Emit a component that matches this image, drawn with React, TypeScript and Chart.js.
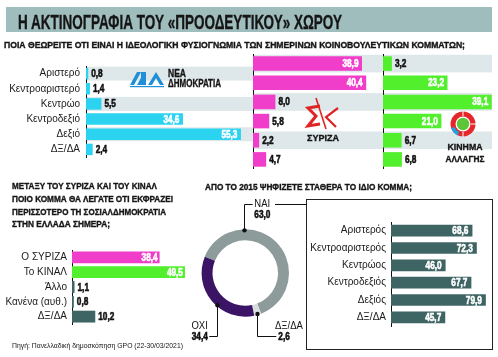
import React, { useEffect, useRef } from "react";
import { Chart, registerables } from "chart.js";
Chart.register(...registerables);

const FONT = "'Liberation Sans', Arial, Helvetica, sans-serif";

// ---- data ----
const ideologyLabels = ["Αριστερό", "Κεντροαριστερό", "Κεντρώο", "Κεντροδεξιό", "Δεξιό", "ΔΞ/ΔΑ"];
const ndValues = [0.8, 1.4, 5.5, 34.6, 55.3, 2.4];
const syrizaValues = [38.9, 40.4, 8.0, 5.8, 2.2, 4.7];
const kinalValues = [3.2, 23.2, 39.1, 21.0, 6.7, 6.8];

const socdemLabels = ["Ο ΣΥΡΙΖΑ", "Το ΚΙΝΑΛ", "Άλλο", "Κανένα (αυθ.)", "ΔΞ/ΔΑ"];
const socdemValues = [38.4, 49.5, 1.1, 0.8, 10.2];

const loyaltyLabels = ["ΝΑΙ", "ΔΞ/ΔΑ", "ΟΧΙ"];
const loyaltyValues = [63.0, 2.6, 34.4];

const stableLabels = ["Αριστερός", "Κεντροαριστερός", "Κεντρώος", "Κεντροδεξιός", "Δεξιός", "ΔΞ/ΔΑ"];
const stableValues = [68.6, 72.3, 46.0, 67.7, 79.9, 45.7];

// ---- colours ----
const CYAN = "#2bd3f1";
const MAGENTA = "#f03dca";
const GREEN = "#52ef2c";
const SLATE = "#3f6464";
const BAND = "#dee7e9";

const fmt = (v: number) => v.toFixed(1).replace(".", ",");

function squeezed(ctx: any, text: string, x: number, y: number, align: string, font: string, color: string, sx: number, heavy?: boolean) {
  ctx.save();
  ctx.font = font;
  ctx.fillStyle = color;
  ctx.strokeStyle = color;
  ctx.lineWidth = 0.6;
  ctx.textBaseline = "middle";
  ctx.textAlign = align;
  ctx.translate(x, y);
  ctx.scale(sx, 1);
  ctx.fillText(text, 0, 0);
  if (heavy) ctx.strokeText(text, 0, 0);
  ctx.restore();
}

const bandPlugin = {
  id: "bands",
  beforeDraw(chart: any, _a: any, opts: any) {
    if (!opts || !opts.on) return;
    const { ctx, chartArea, scales } = chart;
    const n = chart.data.labels.length;
    const step = (chartArea.bottom - chartArea.top) / n;
    ctx.save();
    ctx.fillStyle = BAND;
    for (let i = 0; i < n; i += 2) {
      const c = scales.y.getPixelForValue(i);
      ctx.fillRect(chartArea.left, c - step * 0.46, chartArea.right - chartArea.left, step * 0.92);
    }
    ctx.restore();
  },
};

const valueLabelPlugin = {
  id: "valueLabels",
  afterDatasetsDraw(chart: any, _a: any, opts: any) {
    const ctx = chart.ctx;
    const meta = chart.getDatasetMeta(0);
    const data = chart.data.datasets[0].data;
    const font = `bold ${opts.size}px ${FONT}`;
    meta.data.forEach((bar: any, i: number) => {
      const v = data[i];
      if (v >= opts.threshold) {
        squeezed(ctx, fmt(v), bar.x - opts.inGap, bar.y + 0.5, "right", font, "#ffffff", opts.sx, true);
      } else {
        squeezed(ctx, fmt(v), bar.x + opts.outGap, bar.y + 0.5, "left", font, "#111111", opts.sx, true);
      }
    });
  },
};

type BarProps = {
  labels: string[];
  values: number[];
  colors: string | string[];
  max: number;
  left: number;
  top: number;
  width: number;
  height: number;
  axisWidth: number;
  showTicks: boolean;
  bands: boolean;
  barPct: number;
  threshold: number;
  valueSize: number;
  tickSize: number;
  tickPad: number;
  inGap: number;
  outGap: number;
};

function HBar(p: BarProps) {
  const ref = useRef<HTMLCanvasElement>(null);
  useEffect(() => {
    const chart = new Chart(ref.current as HTMLCanvasElement, {
      type: "bar",
      data: {
        labels: p.labels,
        datasets: [
          {
            data: p.values,
            backgroundColor: p.colors as any,
            barPercentage: p.barPct,
            categoryPercentage: 1,
            borderWidth: 0,
          },
        ],
      },
      options: {
        indexAxis: "y",
        responsive: false,
        animation: false,
        devicePixelRatio: 1,
        layout: { padding: 0 },
        plugins: {
          legend: { display: false },
          tooltip: { enabled: false },
          bands: { on: p.bands },
          valueLabels: { size: p.valueSize, threshold: p.threshold, sx: 0.75, inGap: p.inGap, outGap: p.outGap },
        } as any,
        scales: {
          x: { display: false, min: 0, max: p.max },
          y: {
            display: true,
            grid: { display: false, drawTicks: false },
            border: { display: true, color: "#111", width: 1 },
            ticks: {
              display: p.showTicks,
              color: "#1a1a1a",
              padding: p.tickPad,
              font: { family: FONT, size: p.tickSize },
            },
            afterFit: (s: any) => {
              s.width = p.axisWidth;
            },
          } as any,
        },
      },
      plugins: [bandPlugin, valueLabelPlugin],
    });
    return () => chart.destroy();
  }, []);
  return (
    <canvas
      ref={ref}
      width={p.width}
      height={p.height}
      style={{ position: "absolute", left: p.left, top: p.top, width: p.width, height: p.height }}
    />
  );
}

const leaderPlugin = {
  id: "leaders",
  afterDraw(chart: any) {
    const ctx = chart.ctx;
    const meta = chart.getDatasetMeta(0);
    const arc0 = meta.data[0];
    const cx = arc0.x;
    const cy = arc0.y;
    const r = arc0.outerRadius - 1;
    const vals = chart.data.datasets[0].data;
    const labs = chart.data.labels;
    const dot = (x: number, y: number) => {
      ctx.beginPath();
      ctx.arc(x, y, 2.2, 0, Math.PI * 2);
      ctx.fill();
    };
    ctx.save();
    ctx.strokeStyle = "#111";
    ctx.fillStyle = "#111";
    ctx.lineWidth = 1;
    const boldF = `bold 11px ${FONT}`;
    const normF = `10px ${FONT}`;

    // ΝΑΙ (index 0)
    const a0 = (268 * Math.PI) / 180;
    const x0 = Math.round(cx + r * Math.cos(a0)) + 0.5;
    const y0 = cy + r * Math.sin(a0);
    const lineY = Math.round(cy - 68.7) + 0.5;
    ctx.beginPath();
    ctx.moveTo(x0, y0);
    ctx.lineTo(x0, lineY);
    ctx.lineTo(cx + 7.4, lineY);
    ctx.moveTo(cx + 29.7, lineY);
    ctx.lineTo(cx + 61.5, lineY);
    ctx.stroke();
    dot(x0, y0);
    squeezed(ctx, labs[0], cx + 9, lineY, "left", normF, "#111", 0.95);
    squeezed(ctx, fmt(vals[0]), cx + 9, cy - 58, "left", boldF, "#111", 0.75, true);

    // ΟΧΙ (index 2)
    const a2 = (131 * Math.PI) / 180;
    const x2 = Math.round(cx + r * Math.cos(a2)) + 0.5;
    const y2 = cy + r * Math.sin(a2);
    const botY = Math.round(cy + 62.7) + 0.5;
    ctx.beginPath();
    ctx.moveTo(x2, y2);
    ctx.lineTo(x2, botY);
    ctx.lineTo(cx - 36, botY);
    ctx.stroke();
    dot(x2, y2);
    squeezed(ctx, labs[2], cx - 37.5, cy + 53, "right", normF, "#111", 0.95);
    squeezed(ctx, fmt(vals[2]), cx - 37.5, botY, "right", boldF, "#111", 0.75, true);

    // ΔΞ/ΔΑ (index 1) at middle of its arc
    const a1el = meta.data[1];
    const am = (a1el.startAngle + a1el.endAngle) / 2;
    const x1 = Math.round(cx + r * Math.cos(am)) + 0.5;
    const y1 = cy + r * Math.sin(am);
    ctx.beginPath();
    ctx.moveTo(x1, y1);
    ctx.lineTo(x1, botY);
    ctx.lineTo(cx + 31, botY);
    ctx.stroke();
    dot(x1, y1);
    squeezed(ctx, labs[1], cx + 29.7, cy + 53, "left", normF, "#111", 0.95);
    squeezed(ctx, fmt(vals[1]), cx + 33, botY, "left", boldF, "#111", 0.75, true);
    ctx.restore();
  },
};

function Donut() {
  const ref = useRef<HTMLCanvasElement>(null);
  useEffect(() => {
    const chart = new Chart(ref.current as HTMLCanvasElement, {
      type: "doughnut",
      data: {
        labels: loyaltyLabels,
        datasets: [
          {
            data: loyaltyValues,
            backgroundColor: ["#8d9b9b", "#d9dddd", "#3c1466"],
            borderWidth: 0,
          },
        ],
      },
      options: {
        responsive: false,
        animation: false,
        devicePixelRatio: 1,
        rotation: 292,
        cutout: "75%",
        layout: { padding: { left: 13.6, right: 19, top: 33.3, bottom: 29.3 } },
        plugins: { legend: { display: false }, tooltip: { enabled: false } },
      },
      plugins: [leaderPlugin],
    });
    return () => chart.destroy();
  }, []);
  return (
    <canvas
      ref={ref}
      width={120}
      height={150}
      style={{ position: "absolute", left: 188, top: 196, width: 120, height: 150 }}
    />
  );
}

function T(props: any) {
  const { x, y, size, w, bold, anchor, children, fill } = props;
  const col = fill || "#151515";
  return (
    <text
      x={x}
      y={y}
      fontSize={size}
      fontFamily={FONT}
      fontWeight={bold ? "bold" : "normal"}
      textAnchor={anchor || "start"}
      fill={col}
      stroke={bold ? col : "none"}
      strokeWidth={bold ? 0.35 : 0}
      textLength={w}
      lengthAdjust="spacingAndGlyphs"
    >
      {children}
    </text>
  );
}

export default function App() {
  return (
    <div
      style={{
        position: "fixed",
        left: 0,
        top: 0,
        width: 498,
        height: 357,
        background: "#ffffff",
        overflow: "hidden",
      }}
    >
      <div
        style={{
          position: "absolute",
          left: 306,
          top: 199,
          width: 187,
          height: 151,
          border: "1px solid #222",
          boxSizing: "border-box",
        }}
      />
      <HBar labels={ideologyLabels} values={ndValues} colors={CYAN} max={59.6} left={0} top={54} width={253} height={115}
        axisWidth={86} showTicks={true} bands={true} barPct={0.76} threshold={10} valueSize={11} tickSize={10} tickPad={6} inGap={3.5} outGap={3} />
      <HBar labels={ideologyLabels} values={syrizaValues} colors={MAGENTA} max={46.4} left={253} top={54} width={130} height={115}
        axisWidth={0} showTicks={false} bands={true} barPct={0.76} threshold={10} valueSize={11} tickSize={10} tickPad={6} inGap={3.5} outGap={3} />
      <HBar labels={ideologyLabels} values={kinalValues} colors={GREEN} max={39.2} left={383} top={54} width={109} height={115}
        axisWidth={0} showTicks={false} bands={true} barPct={0.76} threshold={10} valueSize={11} tickSize={10} tickPad={6} inGap={3.5} outGap={3} />
      <HBar labels={socdemLabels} values={socdemValues} colors={[MAGENTA, GREEN, SLATE, SLATE, SLATE]} max={56.1} left={0} top={239} width={200} height={96}
        axisWidth={72} showTicks={true} bands={false} barPct={0.8} threshold={15} valueSize={11} tickSize={10} tickPad={5} inGap={2} outGap={3} />
      <HBar labels={stableLabels} values={stableValues} colors={SLATE} max={83.4} left={308} top={211} width={182} height={126}
        axisWidth={83} showTicks={true} bands={false} barPct={0.67} threshold={20} valueSize={11} tickSize={10} tickPad={5} inGap={4} outGap={3} />
      <Donut />
      <svg width={498} height={357} style={{ position: "absolute", left: 0, top: 0, pointerEvents: "none" }}>
        <rect x={6} y={7} width={486} height={25} fill="#a0bdbd" />
        <T x={18} y={28.5} size={21} w={324} bold>Η ΑΚΤΙΝΟΓΡΑΦΙΑ ΤΟΥ «ΠΡΟΟΔΕΥΤΙΚΟΥ» ΧΩΡΟΥ</T>
        <T x={4} y={47.7} size={8.5} w={461} bold>ΠΟΙΑ ΘΕΩΡΕΙΤΕ ΟΤΙ ΕΙΝΑΙ Η ΙΔΕΟΛΟΓΙΚΗ ΦΥΣΙΟΓΝΩΜΙΑ ΤΩΝ ΣΗΜΕΡΙΝΩΝ ΚΟΙΝΟΒΟΥΛΕΥΤΙΚΩΝ ΚΟΜΜΑΤΩΝ;</T>

        {/* ND logo */}
        <g fill="#1e8fd8">
          <polygon points="130,85 137,72 141,72 134,85" />
          <polygon points="137,85 142,76 142,85" />
          <polygon points="141,72 146,72 146,85 141,85" />
          <polygon points="148,85 156,72 164,85 160,85 156,78 152,85" />
          <rect x={130} y={86} width={34} height={1.2} />
        </g>
        <T x={168} y={77} size={10} w={18} bold>ΝΕΑ</T>
        <T x={168} y={87} size={10} w={53} bold>ΔΗΜΟΚΡΑΤΙΑ</T>

        {/* SYRIZA logo */}
        <g stroke="#e02323" strokeWidth={3} fill="none" strokeLinejoin="miter">
          <polyline points="320,106 308,108 316,116 308,126 320,124" />
          <line x1={316} y1={98} x2={326} y2={129} strokeWidth={1.6} />
          <polyline points="338,108 326,117 336,127" strokeWidth={2.2} />
        </g>
        <T x={323} y={141} size={9.5} w={32} bold anchor="middle">ΣΥΡΙΖΑ</T>

        {/* KINAL logo */}
        <circle cx={463} cy={124} r={12.5} fill="#e5262b" />
        <path d="M 451.2 128 A 12.5 12.5 0 0 0 458 135.5 L 459 132 A 9 9 0 0 1 454.5 127 Z" fill="#1fa3e0" />
        <g stroke="#ffffff" strokeWidth={1}>
          <line x1={463} y1={111} x2={463} y2={116} />
          <line x1={476} y1={124} x2={471} y2={124} />
          <line x1={463} y1={137} x2={463} y2={132} />
        </g>
        <circle cx={463} cy={124} r={7.5} fill="#ffffff" />
        <circle cx={463} cy={124} r={6.2} fill="#5cc53a" />
        <T x={465} y={150} size={9.5} w={35} bold anchor="middle">ΚΙΝΗΜΑ</T>
        <T x={465} y={161.5} size={9.5} w={39} bold anchor="middle">ΑΛΛΑΓΗΣ</T>

        {/* bottom left title */}
        <T x={12} y={189} size={8.8} w={145} bold>ΜΕΤΑΞΥ ΤΟΥ ΣΥΡΙΖΑ ΚΑΙ ΤΟΥ ΚΙΝΑΛ</T>
        <T x={12} y={202} size={8.8} w={161} bold>ΠΟΙΟ ΚΟΜΜΑ ΘΑ ΛΕΓΑΤΕ ΟΤΙ ΕΚΦΡΑΖΕΙ</T>
        <T x={12} y={214.7} size={8.8} w={154} bold>ΠΕΡΙΣΣΟΤΕΡΟ ΤΗ ΣΟΣΙΑΛΔΗΜΟΚΡΑΤΙΑ</T>
        <T x={12} y={227.2} size={8.8} w={98} bold>ΣΤΗΝ ΕΛΛΑΔΑ ΣΗΜΕΡΑ;</T>

        <T x={205} y={190.3} size={8.8} w={207} bold>ΑΠΟ ΤΟ 2015 ΨΗΦΙΖΕΤΕ ΣΤΑΘΕΡΑ ΤΟ ΙΔΙΟ ΚΟΜΜΑ;</T>

        <T x={12} y={347.5} size={7.2} w={171}>Πηγή: Πανελλαδική δημοσκόπηση GPO (22-30/03/2021)</T>
      </svg>
    </div>
  );
}
